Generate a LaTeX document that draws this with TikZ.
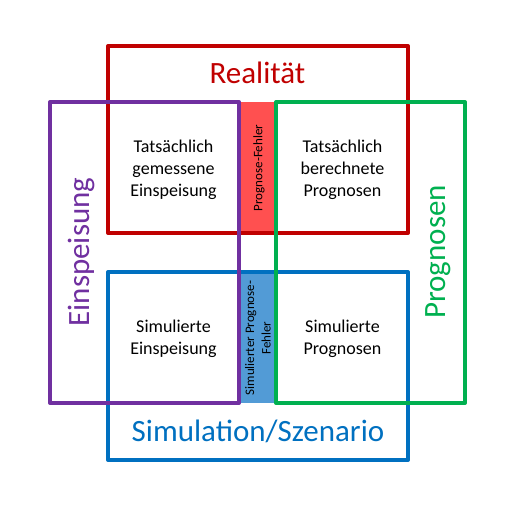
\documentclass[tikz,border=0pt]{standalone}
\usepackage{fontspec}
\setmainfont{Carlito}
\definecolor{cred}{HTML}{C00000}
\definecolor{cpurple}{HTML}{7030A0}
\definecolor{cgreen}{HTML}{00B050}
\definecolor{cblue}{HTML}{0070C0}
\definecolor{fred}{HTML}{FF5050}
\definecolor{fblue}{HTML}{529BD6}
\tikzset{
  frame/.style={line width=4pt, line join=round},
  title/.style={inner sep=0pt, font=\fontsize{31}{37}\selectfont},
  body/.style={inner sep=0pt, align=center, font=\fontsize{18}{22}\selectfont},
  small/.style={inner sep=0pt, align=center, rotate=90, font=\fontsize{13}{16.5}\selectfont}
}
\begin{document}
\begin{tikzpicture}[x=1pt,y=-1pt]
\useasboundingbox (0,0) rectangle (516,508);
% error fills
\fill[fred] (239,102) rectangle (276,233);
\fill[fblue] (239,272) rectangle (276,403);
% frames
\draw[frame, cred] (108,46) rectangle (408,233);
\draw[frame, cblue] (108,272) rectangle (408,460);
\draw[frame, cpurple] (50,102) rectangle (239,403);
\draw[frame, cgreen] (276,102) rectangle (465,403);
% titles
\node[title, text=cred, anchor=base] (real) at (257.5,84) {Realität};
\node[title, text=cblue, anchor=base] (sim) at (258,441.5) {Simulation/Szenario};
\node[title, text=cpurple, rotate=90] (ein) at (81,252) {Einspeisung};
\node[title, text=cgreen, rotate=90] (prog) at (438,252) {Prognosen};
% cell texts
\node[body] (tge) at (173.5,170) {Tatsächlich\\gemessene\\Einspeisung};
\node[body] (tbp) at (342.5,170) {Tatsächlich\\berechnete\\Prognosen};
\node[body] (se) at (173.5,338.5) {Simulierte\\Einspeisung};
\node[body] (sp) at (342.5,338.5) {Simulierte\\Prognosen};
% error texts
\node[small] (pf) at (259,168) {Prognose-Fehler};
\node[small] (spf) at (258,338) {Simulierter Prognose-\\Fehler};
\end{tikzpicture}
\end{document}
